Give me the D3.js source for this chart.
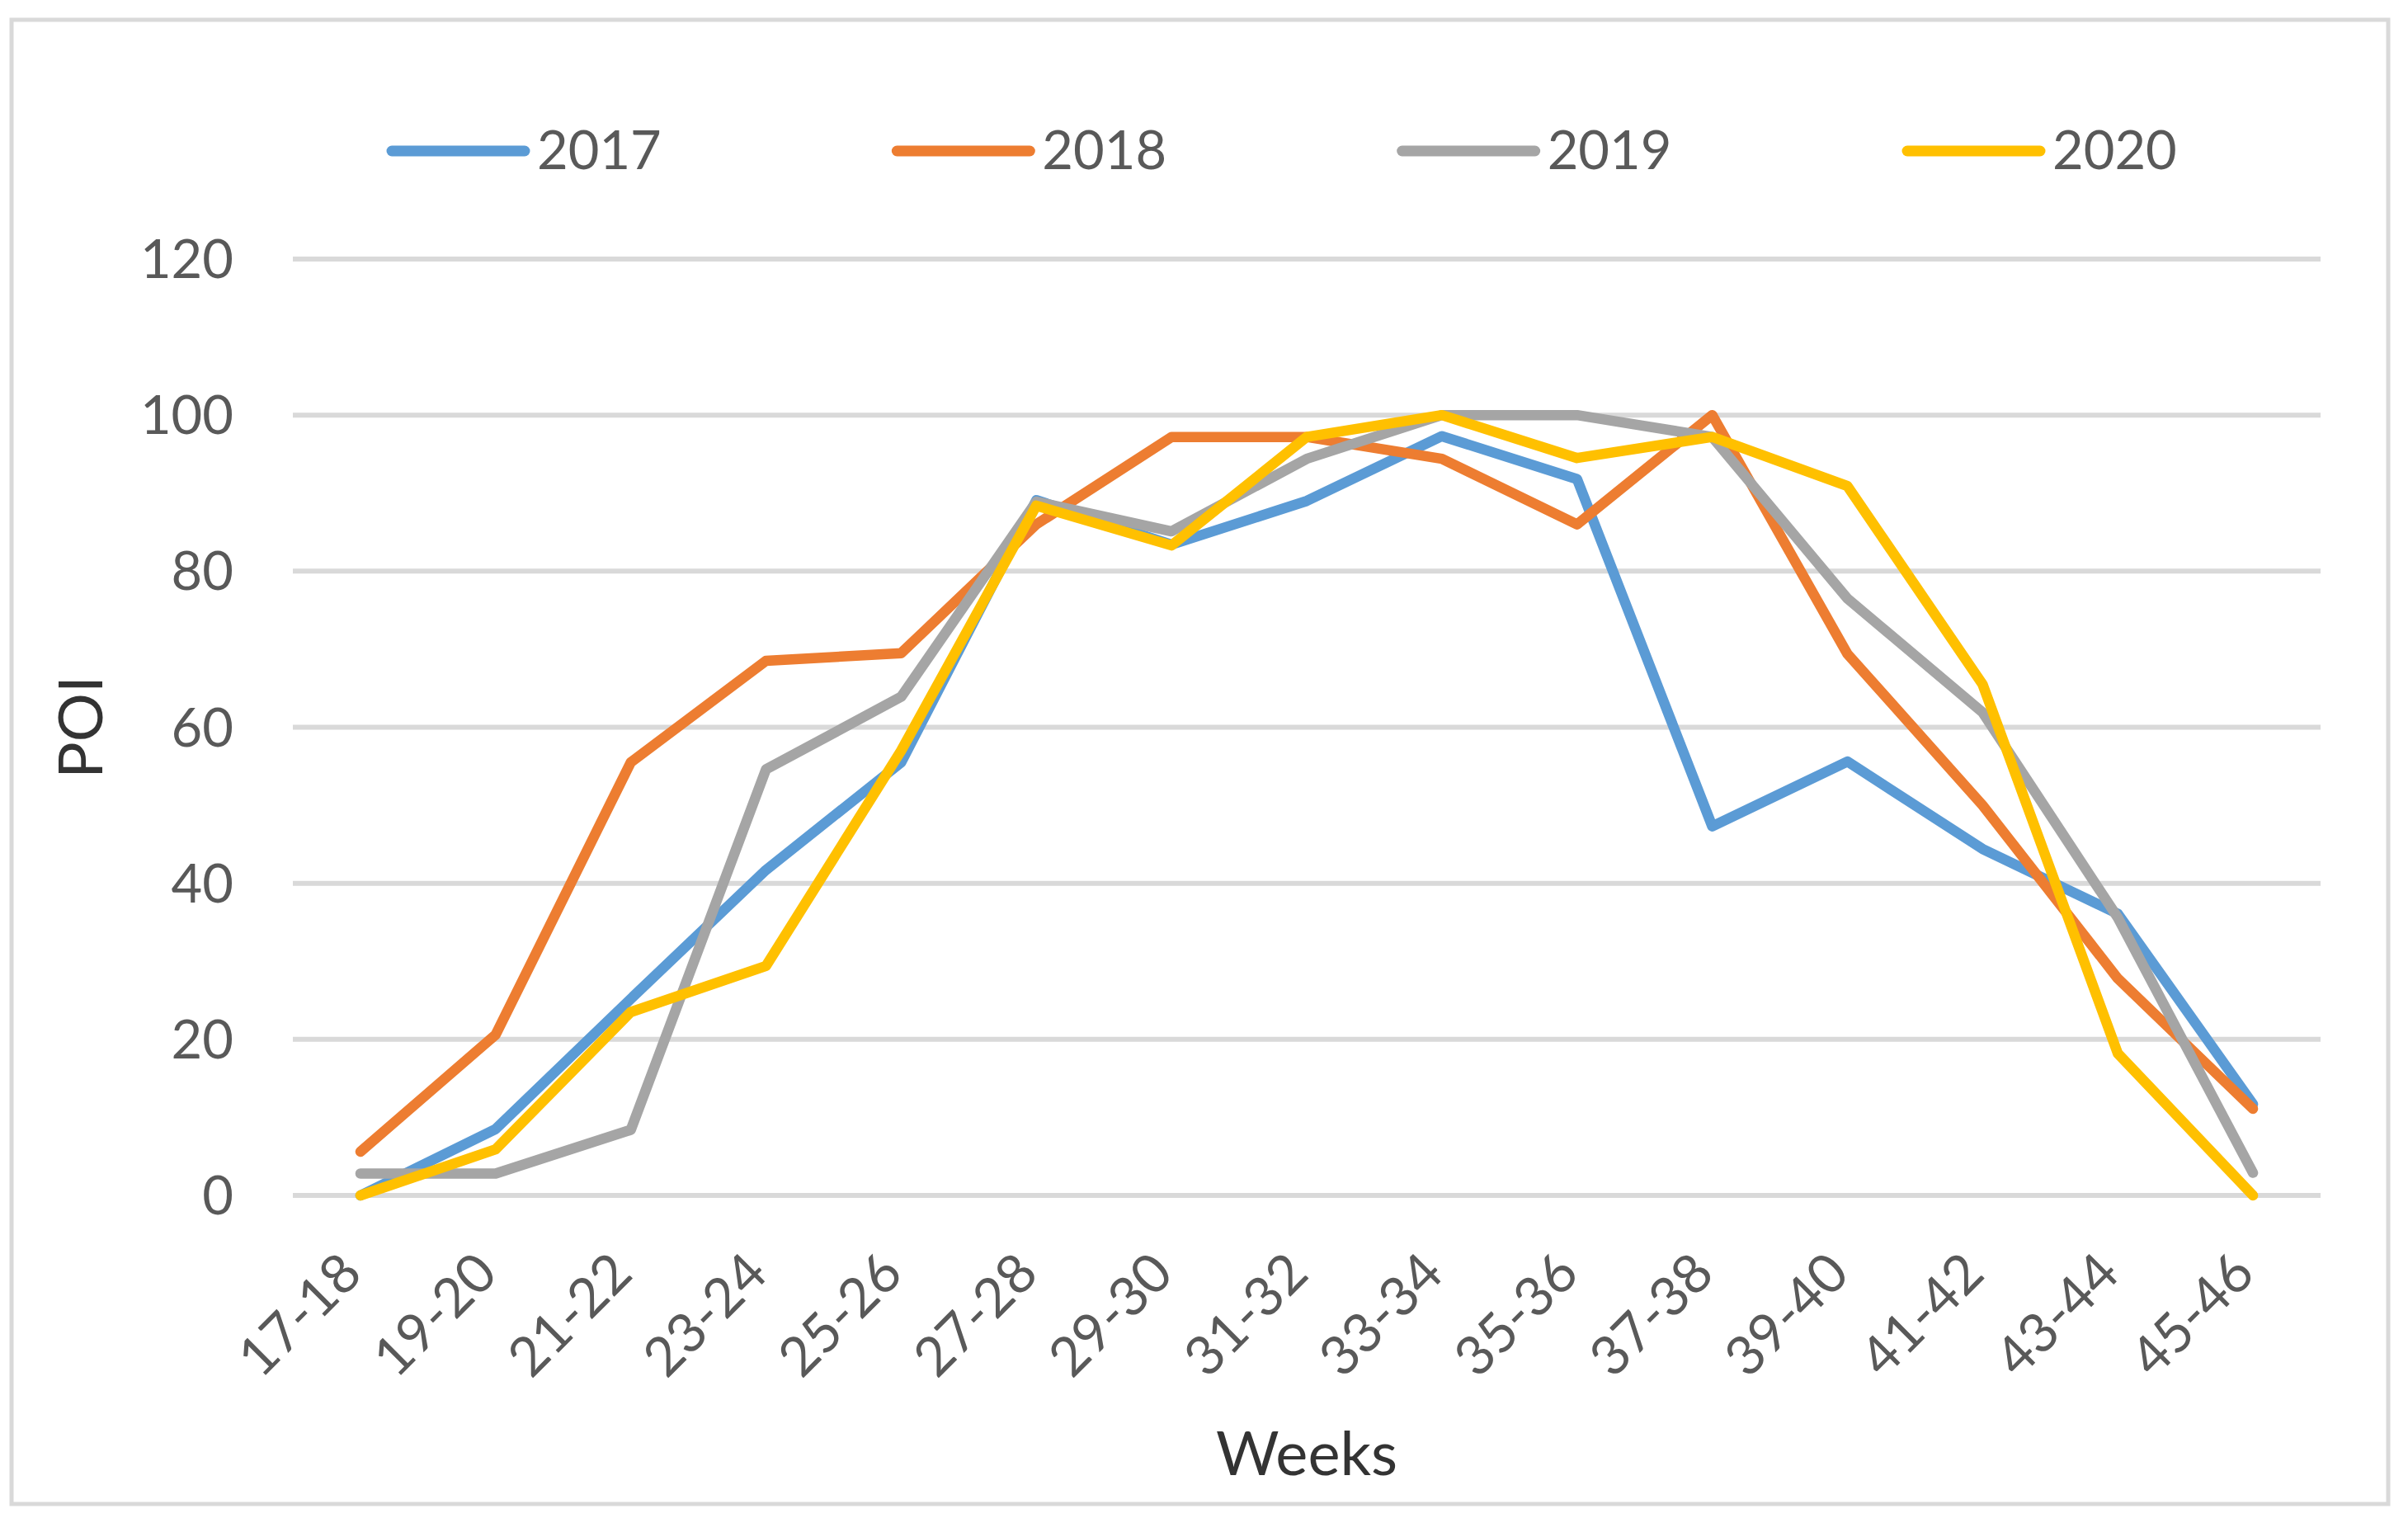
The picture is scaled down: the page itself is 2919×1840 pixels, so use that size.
<!DOCTYPE html>
<html>
<head>
<meta charset="utf-8">
<script src="https://cdn.jsdelivr.net/npm/d3@7"></script>
<style>
  html, body { margin: 0; padding: 0; background: #ffffff; }
  svg { display: block; }
</style>
</head>
<body>
<svg id="chart" width="2919" height="1840"></svg>
<script>
// ---- Data ----
const weeks = ["17-18","19-20","21-22","23-24","25-26","27-28","29-30","31-32","33-34","35-36","37-38","39-40","41-42","43-44","45-46"];
const seriesNames = ["2017","2018","2019","2020"];
const values2017 = [0, 8.5, 25.2, 41.7, 55.5, 89.1, 83.4, 89.0, 97.3, 91.8, 47.3, 55.6, 44.4, 36.1, 11.7];
const values2018 = [5.6, 20.6, 55.5, 68.5, 69.5, 86.0, 97.2, 97.2, 94.4, 86.0, 100, 69.4, 50.0, 27.8, 11.1];
const values2019 = [2.8, 2.8, 8.4, 54.6, 63.9, 88.9, 85.1, 94.4, 100, 100, 97.2, 76.5, 61.9, 35.6, 2.9];
const values2020 = [0, 5.9, 23.5, 29.4, 57.0, 88.4, 83.3, 97.2, 100, 94.5, 97.2, 90.9, 65.5, 18.2, 0];
const yTicks = [0, 20, 40, 60, 80, 100, 120];
const colors = ["#5B9BD5", "#ED7D31", "#A5A5A5", "#FFC000"];

const allSeries = [values2017, values2018, values2019, values2020];

(function () {
  const svg = d3.select("#chart");
  const pLeft = 355, pRight = 2813, pTop = 314, pBottom = 1449;
  const font = "Lato, 'Open Sans', sans-serif";

  // outer border
  svg.append("rect")
    .attr("x", 14).attr("y", 24).attr("width", 2881).attr("height", 1799)
    .attr("fill", "#ffffff").attr("stroke", "#d9d9d9").attr("stroke-width", 5);

  const x = d3.scalePoint().domain(weeks).range([pLeft, pRight]).padding(0.5);
  const y = d3.scaleLinear().domain([0, 120]).range([pBottom, pTop]);

  // gridlines
  svg.append("g").selectAll("line").data(yTicks).join("line")
    .attr("x1", pLeft).attr("x2", pRight)
    .attr("y1", d => y(d)).attr("y2", d => y(d))
    .attr("stroke", "#d9d9d9").attr("stroke-width", 6);

  // y tick labels
  svg.append("g").selectAll("text").data(yTicks).join("text")
    .attr("x", 283).attr("y", d => y(d) + 23)
    .attr("text-anchor", "end")
    .attr("font-family", font).attr("font-size", 65)
    .attr("fill", "#595959")
    .text(d => d);

  // x tick labels
  svg.append("g").selectAll("text").data(weeks).join("text")
    .attr("text-anchor", "end")
    .attr("transform", d => `translate(${x(d) + 5},1547) rotate(-45)`)
    .attr("font-family", font).attr("font-size", 66)
    .attr("fill", "#595959")
    .text(d => d);

  // lines
  const line = d3.line().x((d, i) => x(weeks[i])).y(d => y(d));
  svg.append("g").selectAll("path").data(allSeries).join("path")
    .attr("d", d => line(d))
    .attr("fill", "none")
    .attr("stroke", (d, i) => colors[i])
    .attr("stroke-width", 12.5)
    .attr("stroke-linecap", "round")
    .attr("stroke-linejoin", "round");

  // axis titles
  svg.append("text")
    .attr("x", (pLeft + pRight) / 2).attr("y", 1788)
    .attr("text-anchor", "middle")
    .attr("font-family", font).attr("font-size", 74)
    .attr("fill", "#333333")
    .text("Weeks");

  svg.append("text")
    .attr("transform", `translate(124,${(pTop + pBottom) / 2}) rotate(-90)`)
    .attr("text-anchor", "middle")
    .attr("font-family", font).attr("font-size", 74)
    .attr("fill", "#333333")
    .text("POI");

  // legend
  const legendX = d3.scalePoint().domain(seriesNames).range([469, 2306]);
  const lg = svg.append("g").selectAll("g").data(seriesNames).join("g")
    .attr("transform", d => `translate(${legendX(d)},0)`);
  lg.append("line")
    .attr("x1", 6).attr("x2", 167).attr("y1", 183).attr("y2", 183)
    .attr("stroke", (d, i) => colors[i]).attr("stroke-width", 13)
    .attr("stroke-linecap", "round");
  lg.append("text")
    .attr("x", 182).attr("y", 205)
    .attr("font-family", font).attr("font-size", 65)
    .attr("fill", "#595959")
    .text(d => d);
})();
</script>
</body>
</html>
